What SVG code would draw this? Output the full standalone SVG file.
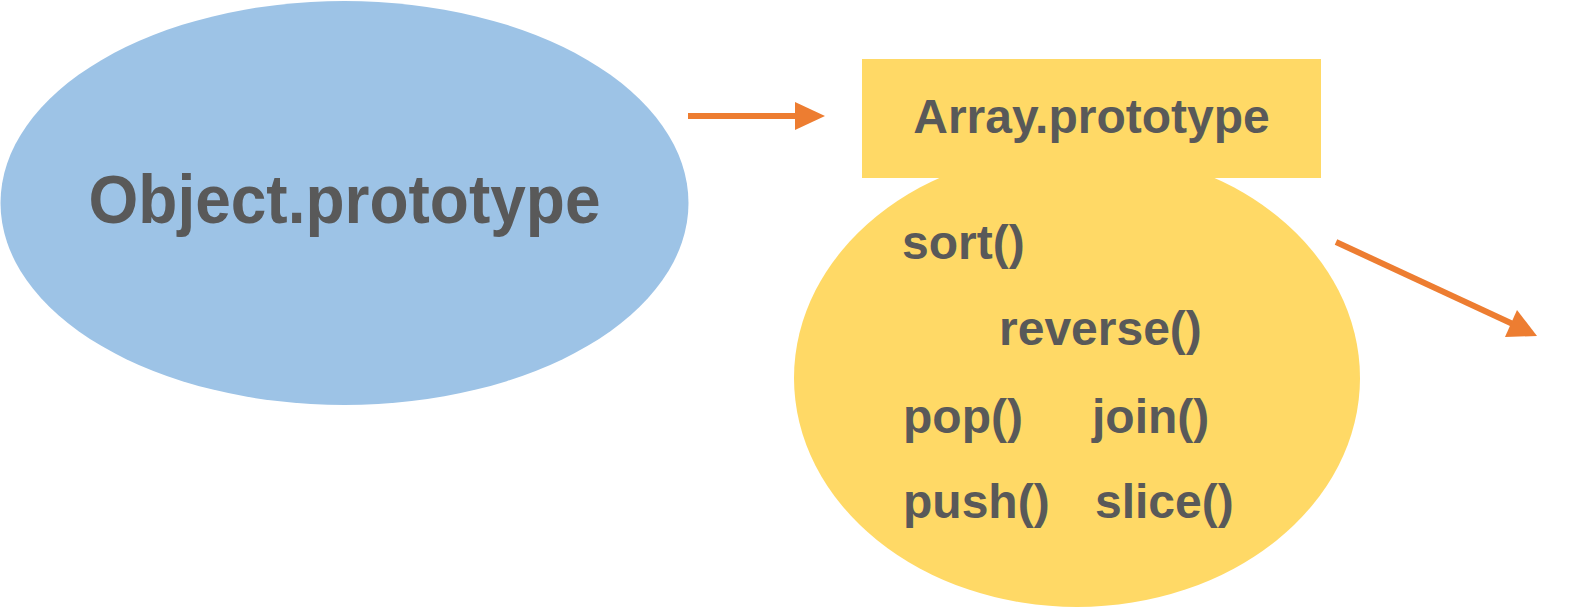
<svg xmlns="http://www.w3.org/2000/svg" width="1569" height="607" viewBox="0 0 1569 607">
<style>
.t{font-family:"Liberation Sans",Arial,sans-serif;font-weight:bold;fill:#595959}
.m{font-size:48px}
.c{stroke:#ED7D31;stroke-width:6;fill:none}
.h{fill:#ED7D31}
</style>
<rect width="1569" height="607" fill="#ffffff"/>
<g id="object-prototype">
<ellipse cx="344.5" cy="203" rx="344" ry="202" fill="#9DC3E6"/>
<text class="t" transform="translate(344.5,223) scale(1,1.07)" x="0" y="0" font-size="64" text-anchor="middle">Object.prototype</text>
</g>
<g id="array-prototype">
<ellipse cx="1077" cy="378" rx="283" ry="229" fill="#FFD966"/>
<rect x="862" y="59" width="459" height="119" fill="#FFD966"/>
<text class="t m" x="1091.5" y="133" text-anchor="middle">Array.prototype</text>
<text class="t m" x="902" y="259">sort()</text>
<text class="t m" x="999" y="345">reverse()</text>
<text class="t m" x="903" y="433">pop()</text>
<text class="t m" x="1092" y="433">join()</text>
<text class="t m" x="903" y="518">push()</text>
<text class="t m" x="1095" y="518">slice()</text>
</g>
<g id="connectors">
<line class="c" x1="688" y1="116" x2="797" y2="116"/>
<polygon class="h" points="795,102 825,116 795,130"/>
<line class="c" x1="1336" y1="242" x2="1515" y2="325"/>
<polygon class="h" points="1505,337 1517,310 1537,336"/>
</g>
</svg>
